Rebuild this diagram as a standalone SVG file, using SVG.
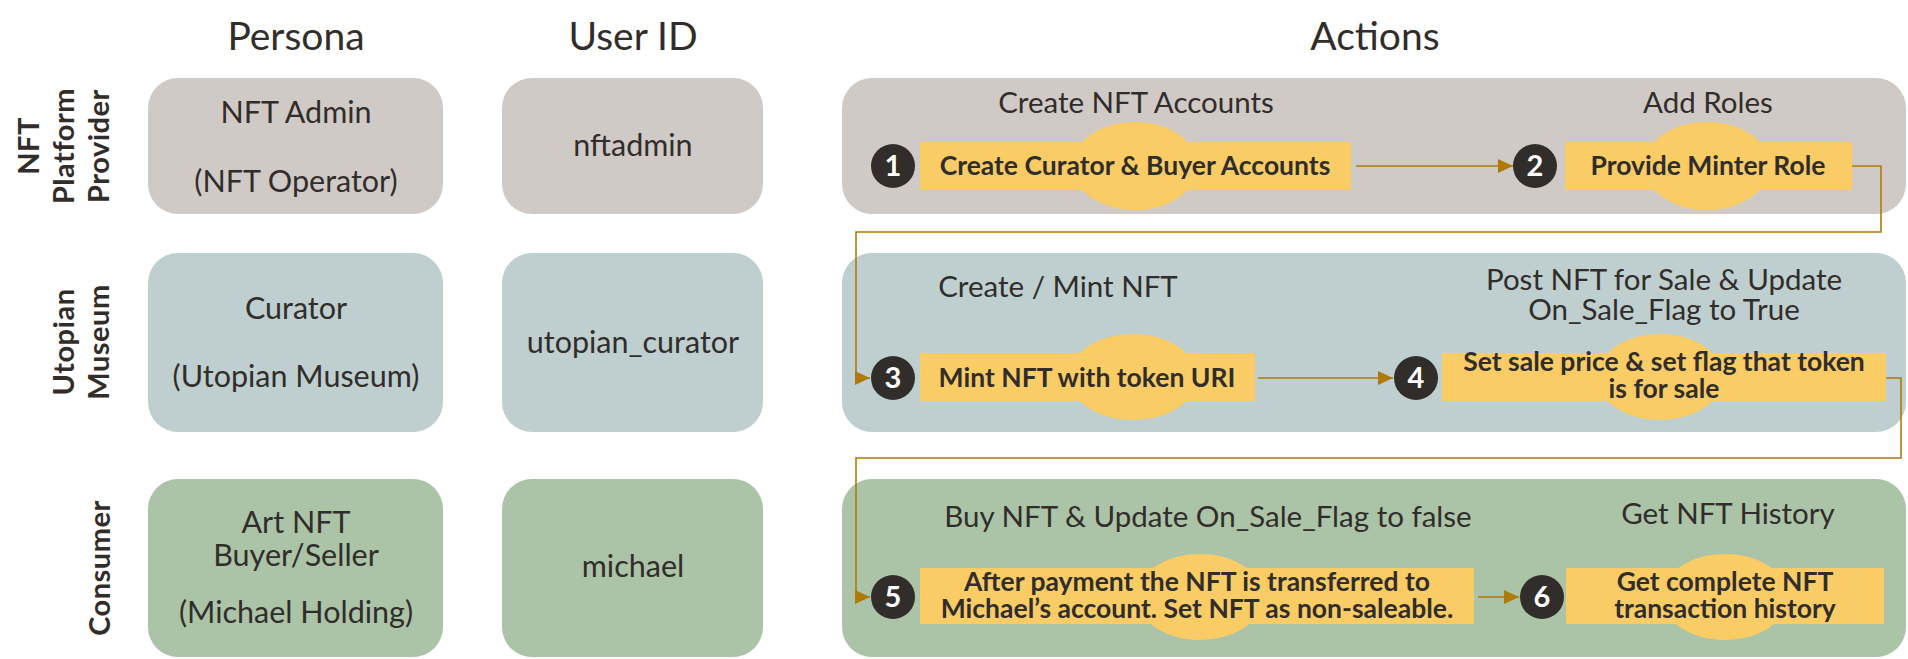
<svg xmlns="http://www.w3.org/2000/svg" width="1908" height="659" viewBox="0 0 1908 659">
<defs>
<style>
text{font-family:Lato,"Open Sans","Liberation Sans",sans-serif;fill:#312D2A}
.h{font-size:39px;text-anchor:middle}
.p{font-size:30.5px;text-anchor:middle}
.s{font-size:29.5px;text-anchor:middle}
.b{font-size:26.5px;font-weight:bold;text-anchor:middle}
.r{font-size:29px;font-weight:bold;text-anchor:middle;letter-spacing:0.5px}
.n{font-size:29px;font-weight:bold;text-anchor:middle;fill:#FFFFFF}
.g1{fill:#D0CAC7}
.g2{fill:#BFCFCF}
.g3{fill:#ABC4A8}
.y{fill:#F9CC66}
.c{fill:#312D2A}
.ln{fill:none;stroke:#AE7A0A;stroke-width:1.6}
</style>
<marker id="ah" markerUnits="userSpaceOnUse" markerWidth="16" markerHeight="14" refX="15" refY="7" orient="auto">
<path d="M0,0 L15,7 L0,14 Z" fill="#AE7A0A"/>
</marker>
</defs>
<rect width="1908" height="659" fill="#FFFFFF"/>

<g id="headers">
<text class="h" x="296" y="50">Persona</text>
<text class="h" x="633" y="50">User ID</text>
<text class="h" x="1375" y="50">Actions</text>
</g>

<g id="row-labels">
<text class="r" transform="translate(39,146) rotate(-90)">NFT</text>
<text class="r" transform="translate(74,146) rotate(-90)">Platform</text>
<text class="r" transform="translate(109,146) rotate(-90)">Provider</text>
<text class="r" transform="translate(74,342) rotate(-90)">Utopian</text>
<text class="r" transform="translate(109,342) rotate(-90)">Museum</text>
<text class="r" transform="translate(110,568) rotate(-90)">Consumer</text>
</g>

<g id="persona-admin">
<rect class="g1" x="148" y="78" width="295" height="136" rx="30"/>
<text class="p" x="296" y="123">NFT Admin</text>
<text class="p" x="296" y="192">(NFT Operator)</text>
</g>
<g id="persona-curator">
<rect class="g2" x="148" y="253" width="295" height="179" rx="30"/>
<text class="p" x="296" y="319">Curator</text>
<text class="p" x="296" y="387">(Utopian Museum)</text>
</g>
<g id="persona-buyer">
<rect class="g3" x="148" y="479" width="295" height="178" rx="30"/>
<text class="p" x="296" y="533">Art NFT</text>
<text class="p" x="296" y="566">Buyer/Seller</text>
<text class="p" x="296" y="623">(Michael Holding)</text>
</g>

<g id="user-nftadmin">
<rect class="g1" x="502" y="78" width="261" height="136" rx="30"/>
<text class="p" x="633" y="156">nftadmin</text>
</g>
<g id="user-curator">
<rect class="g2" x="502" y="253" width="261" height="179" rx="30"/>
<text class="p" x="633" y="353">utopian_curator</text>
</g>
<g id="user-michael">
<rect class="g3" x="502" y="479" width="261" height="178" rx="30"/>
<text class="p" x="633" y="577">michael</text>
</g>

<g id="actions-row1">
<rect class="g1" x="842" y="78" width="1064" height="136" rx="30"/>
<text class="s" x="1136" y="113">Create NFT Accounts</text>
<text class="s" x="1708" y="113">Add Roles</text>
</g>
<g id="actions-row2">
<rect class="g2" x="842" y="253" width="1064" height="179" rx="30"/>
<text class="s" x="1058" y="297">Create / Mint NFT</text>
<text class="s" x="1664" y="290">Post NFT for Sale &amp; Update</text>
<text class="s" x="1664" y="320">On_Sale_Flag to True</text>
</g>
<g id="actions-row3">
<rect class="g3" x="842" y="479" width="1064" height="178" rx="30"/>
<text class="s" x="1208" y="527">Buy NFT &amp; Update On_Sale_Flag to false</text>
<text class="s" x="1728" y="524">Get NFT History</text>
</g>

<g id="connectors">
<path class="ln" d="M1356,166 H1513" marker-end="url(#ah)"/>
<path class="ln" d="M1852,166 H1881 V232 H856 V378 H870" marker-end="url(#ah)"/>
<path class="ln" d="M1258,378 H1393" marker-end="url(#ah)"/>
<path class="ln" d="M1886,378 H1901 V458 H856 V597 H870" marker-end="url(#ah)"/>
<path class="ln" d="M1478,597 H1519" marker-end="url(#ah)"/>
</g>

<g id="step1">
<ellipse class="y" cx="1135" cy="166" rx="63" ry="44"/>
<rect class="y" x="920" y="142" width="431" height="48"/>
<circle class="c" cx="893" cy="166" r="22"/>
<text class="n" x="893" y="176">1</text>
<text class="b" x="1135" y="175">Create Curator &amp; Buyer Accounts</text>
</g>
<g id="step2">
<ellipse class="y" cx="1707" cy="166" rx="63" ry="44"/>
<rect class="y" x="1565" y="142" width="287" height="48"/>
<circle class="c" cx="1535" cy="166" r="22"/>
<text class="n" x="1535" y="176">2</text>
<text class="b" x="1708" y="175">Provide Minter Role</text>
</g>
<g id="step3">
<ellipse class="y" cx="1133" cy="377" rx="64" ry="43"/>
<rect class="y" x="920" y="353" width="335" height="48"/>
<circle class="c" cx="893" cy="378" r="22"/>
<text class="n" x="893" y="388">3</text>
<text class="b" x="1087" y="387">Mint NFT with token URI</text>
</g>
<g id="step4">
<ellipse class="y" cx="1660" cy="377" rx="63" ry="43"/>
<rect class="y" x="1442" y="353" width="444" height="48"/>
<circle class="c" cx="1416" cy="378" r="22"/>
<text class="n" x="1416" y="388">4</text>
<text class="b" x="1664" y="371">Set sale price &amp; set flag that token</text>
<text class="b" x="1664" y="398">is for sale</text>
</g>
<g id="step5">
<ellipse class="y" cx="1200" cy="597" rx="63" ry="43"/>
<rect class="y" x="920" y="568" width="554" height="56"/>
<circle class="c" cx="893" cy="597" r="22"/>
<text class="n" x="893" y="607">5</text>
<text class="b" x="1197" y="591">After payment the NFT is transferred to</text>
<text class="b" x="1197" y="618">Michael’s account. Set NFT as non-saleable.</text>
</g>
<g id="step6">
<ellipse class="y" cx="1725" cy="597" rx="63" ry="43"/>
<rect class="y" x="1566" y="568" width="318" height="56"/>
<circle class="c" cx="1542" cy="597" r="22"/>
<text class="n" x="1542" y="607">6</text>
<text class="b" x="1725" y="591">Get complete NFT</text>
<text class="b" x="1725" y="618">transaction history</text>
</g>
</svg>
